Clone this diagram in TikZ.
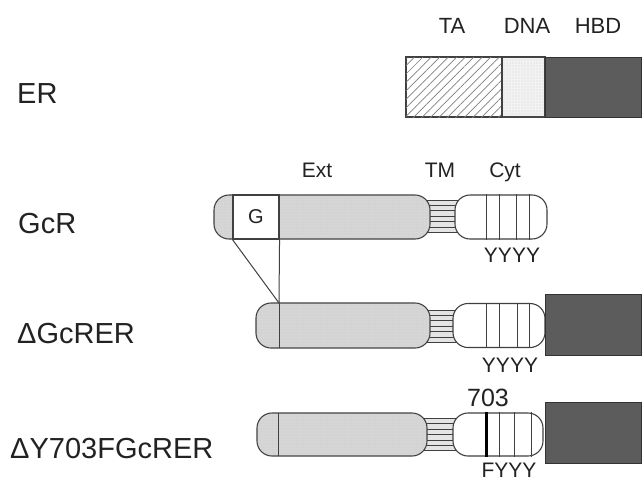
\documentclass[tikz,border=0pt]{standalone}
\usepackage{fontspec}
\setmainfont{Liberation Sans}
\usetikzlibrary{patterns.meta,calc}
\definecolor{ln}{HTML}{404040}
\definecolor{txt}{HTML}{222222}
\definecolor{hbdc}{HTML}{5C5C5C}
\definecolor{extc}{HTML}{D6D6D6}
\definecolor{tmc}{HTML}{C8C8C8}
\begin{document}
\begin{tikzpicture}[x=1pt,y=-1pt,
  outl/.style={draw=ln, line width=1.1pt},
  capsule/.style={outl, fill=extc, rounded corners=15pt, inner sep=0pt,
     postaction={pattern={Dots[distance=3pt,radius=0.4pt]}, pattern color=gray!60}},
  cytbox/.style={outl, fill=white, rounded corners=15pt, inner sep=0pt, minimum width=92pt, minimum height=44pt},
  tmbox/.style={draw=ln, line width=0.9pt, fill=tmc!50, inner sep=0pt, minimum width=36pt, minimum height=32pt},
  hbdbox/.style={draw=ln!80!black, line width=1pt, fill=hbdc, inner sep=0pt, minimum width=96pt, minimum height=61pt},
  rowlbl/.style={text=txt, anchor=base west, inner sep=0pt, font=\fontsize{29}{29}\selectfont},
  toplbl/.style={text=txt, anchor=base, inner sep=0pt, font=\fontsize{22}{22}\selectfont},
  domlbl/.style={text=txt, anchor=base, inner sep=0pt, font=\fontsize{21}{21}\selectfont},
  conn/.style={draw=ln, line width=1pt},
  bar/.style={draw=ln, line width=0.9pt},
  thickbar/.style={draw=black, line width=2.6pt}
]
\useasboundingbox (0,0) rectangle (643,480);

% ---------- ER ----------
\node[toplbl] (lTA) at (452,33) {TA};
\node[toplbl] (lDNA) at (527,33) {DNA};
\node[toplbl] (lHBD) at (598,33) {HBD};
\node[outl, fill=white, inner sep=0pt, minimum width=96pt, minimum height=60pt,
      postaction={pattern={Lines[angle=45,distance=6pt,line width=0.7pt]}, pattern color=gray}] (ta) at (454,87) {};
\node[outl, fill=gray!10, inner sep=0pt, minimum width=43pt, minimum height=60pt,
      postaction={pattern={Dots[distance=3pt,radius=0.45pt]}, pattern color=gray!70}] (dna) at (523.5,87) {};
\node[hbdbox, minimum height=60pt] (hbd0) at (593,87) {};
\node[rowlbl] (nER) at (17,103) {ER};

% ---------- GcR ----------
\node[domlbl] (lExt) at (317,177) {Ext};
\node[domlbl] (lTM) at (440,177) {TM};
\node[domlbl] (lCyt) at (505,177) {Cyt};
\node[tmbox] (tm1) at (441.5,216) {};
\foreach \k in {1,...,5}
  \draw[bar] ($(tm1.north west)!\k/6!(tm1.south west)$) -- ($(tm1.north east)!\k/6!(tm1.south east)$);
\node[capsule, minimum width=216pt, minimum height=44pt] (ext1) at (322,217) {};
\node[outl, fill=white, inner sep=0pt, minimum width=46pt, minimum height=44pt,
      text=txt, font=\fontsize{20}{20}\selectfont] (g) at (256,217) {G};
\node[cytbox] (cyt1) at (501,217) {};
\foreach \dx in {32,45,62,75}
  \draw[bar] ($(cyt1.north west)+(\dx,0)$) -- ($(cyt1.south west)+(\dx,0)$);
\node[domlbl] (y1) at (512,262) {YYYY};
\node[rowlbl] (nGcR) at (18,233) {GcR};

% ---------- dGcRER ----------
\node[tmbox] (tm2) at (441.5,326) {};
\foreach \k in {1,...,5}
  \draw[bar] ($(tm2.north west)!\k/6!(tm2.south west)$) -- ($(tm2.north east)!\k/6!(tm2.south east)$);
\node[capsule, minimum width=174pt, minimum height=45pt] (ext2) at (343,325.5) {};
\coordinate (d1) at (279,303);
\coordinate (d1b) at (279,348);
\draw[conn] (d1) -- (d1b);
\draw[conn] (g.south west) -- (d1);
\draw[conn] (g.south east) -- (d1);
\node[cytbox] (cyt2) at (499,325.5) {};
\foreach \dx in {34,47,65,77}
  \draw[bar] ($(cyt2.north west)+(\dx,0)$) -- ($(cyt2.south west)+(\dx,0)$);
\node[hbdbox] (hbd2) at (593,324.5) {};
\node[domlbl] (y2) at (510,372) {YYYY};
\node[rowlbl] (nD) at (17,343) {ΔGcRER};

% ---------- dY703FGcRER ----------
\node[tmbox] (tm3) at (440,434.5) {};
\foreach \k in {1,...,5}
  \draw[bar] ($(tm3.north west)!\k/6!(tm3.south west)$) -- ($(tm3.north east)!\k/6!(tm3.south east)$);
\node[capsule, minimum width=170pt, minimum height=43pt] (ext3) at (342,434.5) {};
\coordinate (d3) at (278,413);
\coordinate (d3b) at (278,456);
\draw[conn] (d3) -- (d3b);
\node[cytbox, minimum height=43pt, minimum width=90pt] (cyt3) at (498,434.5) {};
\draw[thickbar] ($(cyt3.north west)+(34,0)$) -- ($(cyt3.south west)+(34,0)$);
\foreach \dx in {47,62,79}
  \draw[bar] ($(cyt3.north west)+(\dx,0)$) -- ($(cyt3.south west)+(\dx,0)$);
\node[hbdbox] (hbd3) at (593,433) {};
\node[text=txt, anchor=base, inner sep=0pt, font=\fontsize{25}{25}\selectfont] (n703) at (488,406) {703};
\node[domlbl] (y3) at (509,477) {FYYY};
\node[rowlbl] (nDY) at (10,458) {ΔY703FGcRER};
\end{tikzpicture}
\end{document}
